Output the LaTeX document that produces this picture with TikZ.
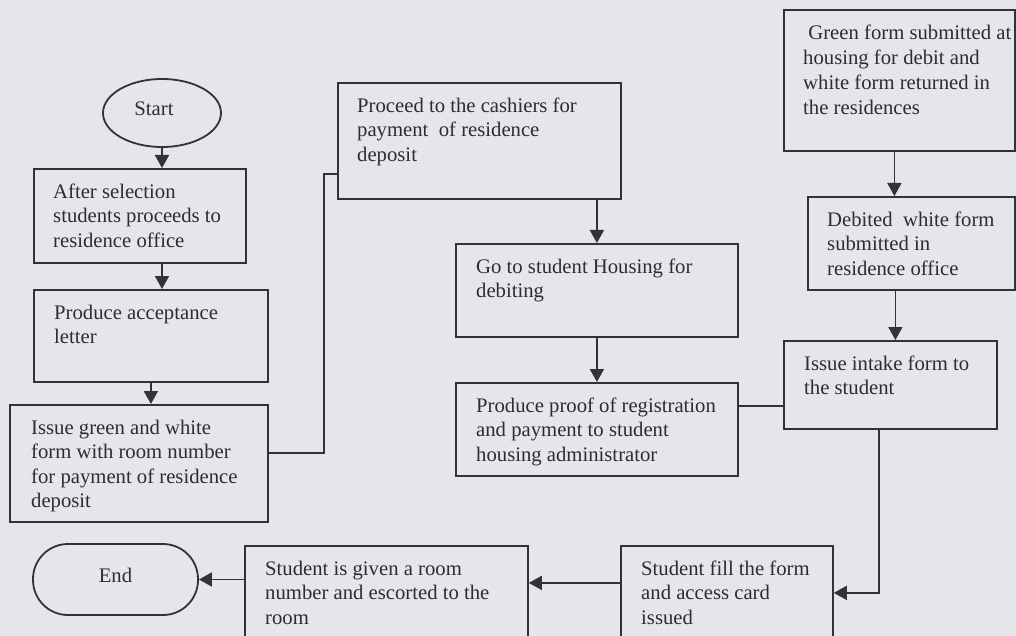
\documentclass[tikz,border=0pt]{standalone}
\usepackage{fontspec}
\setmainfont{Liberation Serif}
\usetikzlibrary{shapes.geometric,arrows.meta,calc}

\definecolor{paper}{RGB}{229,230,236}
\definecolor{ink}{RGB}{50,50,56}
\definecolor{txtc}{RGB}{45,45,48}

\tikzset{
  proc/.style={draw=ink, line width=1.8pt, fill=none, inner sep=0pt, anchor=north west},
  txt/.style={anchor=north west, align=left, inner sep=0pt, text=txtc,
              font=\fontsize{20.7}{24.5}\selectfont},
  conn/.style={draw=ink, line width=1.8pt},
  arr/.style={conn, -{Triangle[length=13pt,width=14pt]}},
}

\begin{document}
\begin{tikzpicture}[x=1pt,y=-1pt]
  \useasboundingbox (0,0) rectangle (1016,636);
  \clip (0,0) rectangle (1016,636);
  \fill[paper] (0,0) rectangle (1016,636);

  % terminators
  \node[ellipse, draw=ink, line width=1.8pt, inner sep=0pt,
        minimum width=118pt, minimum height=68pt] (start) at (162,113) {};
  \node[txt, anchor=base] (tstart) at (154,116) {Start};

  \node[draw=ink, line width=1.8pt, rounded corners=35pt, inner sep=0pt,
        minimum width=165pt, minimum height=71pt] (end) at (115.5,579.5) {};
  \node[txt, anchor=base] (tend) at (115.5,582) {End};

  % process boxes
  \node[proc, minimum width=212pt, minimum height=94pt]  (b1)  at (33,168)  {};
  \node[proc, minimum width=234pt, minimum height=92pt]  (b2)  at (33,289)  {};
  \node[proc, minimum width=258pt, minimum height=117pt] (b3)  at (9,404)   {};
  \node[proc, minimum width=283pt, minimum height=116pt] (b4)  at (337,82)  {};
  \node[proc, minimum width=282pt, minimum height=93pt]  (b5)  at (455,243) {};
  \node[proc, minimum width=282pt, minimum height=93pt]  (b6)  at (455,382) {};
  \node[proc, minimum width=231pt, minimum height=141pt] (b7)  at (783,9)   {};
  \node[proc, minimum width=207pt, minimum height=93pt]  (b8)  at (807,196) {};
  \node[proc, minimum width=213pt, minimum height=88pt]  (b9)  at (783,340) {};
  \node[proc, minimum width=212pt, minimum height=94pt]  (b10) at (620,545) {};
  \node[proc, minimum width=283pt, minimum height=115pt] (b11) at (244,545) {};

  % box texts
  \node[txt] (t1)  at ($(b1.north west)+(20,15.5)$)  {After selection\\students proceeds to\\residence office};
  \node[txt] (t2)  at ($(b2.north west)+(21,15.5)$)  {Produce acceptance\\letter};
  \node[txt] (t3)  at ($(b3.north west)+(22,15.5)$)  {Issue green and white\\form with room number\\for payment of residence\\deposit};
  \node[txt] (t4)  at ($(b4.north west)+(20,15.5)$)  {Proceed to the cashiers for\\payment \ of residence\\deposit};
  \node[txt] (t5)  at ($(b5.north west)+(21,15.5)$)  {Go to student Housing for\\debiting};
  \node[txt] (t6)  at ($(b6.north west)+(21,15.5)$)  {Produce proof of registration\\and payment to student\\housing administrator};
  \node[txt, font=\fontsize{20.7}{25}\selectfont] (t7) at ($(b7.north west)+(20,15.5)$)
        {\ Green form submitted at\\housing for debit and\\white form returned in\\the residences};
  \node[txt] (t8)  at ($(b8.north west)+(20,15.5)$)  {Debited \ white form\\submitted in\\residence office};
  \node[txt] (t9)  at ($(b9.north west)+(21,15.5)$)  {Issue intake form to\\the student};
  \node[txt] (t10) at ($(b10.north west)+(21,15.5)$) {Student fill the form\\and access card\\issued};
  \node[txt] (t11) at ($(b11.north west)+(21,15.5)$) {Student is given a room\\number and escorted to the\\room};

  % connectors
  \draw[arr] (start.south) -- (start.south |- b1.north);
  \draw[arr] (b1.south -| start.south) -- (b2.north -| start.south);
  \draw[arr] (b2.south) -- (b2.south |- b3.north);

  \coordinate (c34) at ([yshift=10.5pt]b3.east);
  \draw[conn] (c34) -- ++(55,0) |- ([yshift=-33pt]b4.west);

  \draw[arr] (b4.south -| b5.north) -- (b5.north);
  \draw[arr] (b5.south) -- (b6.north);

  \coordinate (c69) at ([yshift=23.5pt]b6.east);
  \draw[conn] (c69) -- (c69 -| b9.west);

  \coordinate (c78) at ([xshift=-5pt]b7.south);
  \draw[arr] (c78) -- (c78 |- b8.north);
  \coordinate (c89) at ([xshift=-16pt]b8.south);
  \draw[arr] (c89) -- (c89 |- b9.north);

  \coordinate (c910) at ([xshift=-11.5pt]b9.south);
  \draw[arr] (c910) |- (b10.east);

  \coordinate (c1011) at ([yshift=10pt]b10.west);
  \draw[arr] (c1011) -- (c1011 -| b11.east);

  \draw[arr] (end.east -| b11.west) -- (end.east);
\end{tikzpicture}
\end{document}
